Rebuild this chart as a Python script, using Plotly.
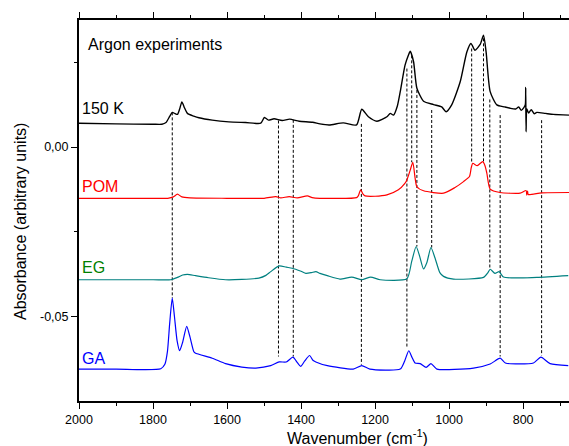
import plotly.graph_objects as go

# ---------------- data ----------------
wn_150k = [2000, 1900, 1800, 1776, 1765, 1755, 1748, 1740, 1734, 1728, 1722, 1716, 1707, 1690, 1676,
           1640, 1595, 1550, 1509, 1499, 1488, 1473, 1451, 1431, 1405, 1369, 1349, 1324, 1286, 1250,
           1236, 1218, 1195, 1168, 1159, 1150, 1140, 1132, 1119, 1110, 1105, 1096, 1087, 1069, 1042,
           1020, 1008, 993, 970, 952, 941, 930, 916, 907, 900, 889, 871, 850, 835, 820, 812, 805, 798,
           794, 793, 792, 790, 785, 778, 770, 763, 740, 718, 676]
ab_150k = [0.0070, 0.0068, 0.0067, 0.0067, 0.0072, 0.0090, 0.0102, 0.0098, 0.0096, 0.0112, 0.0133, 0.0118,
           0.0099, 0.0091, 0.0086, 0.0079, 0.0074, 0.0072, 0.0070, 0.0087, 0.0079, 0.0083, 0.0078, 0.0082,
           0.0076, 0.0073, 0.0068, 0.0065, 0.0071, 0.0065, 0.0111, 0.0089, 0.0076, 0.0089, 0.0099, 0.0094,
           0.0120, 0.0163, 0.0241, 0.0270, 0.0282, 0.0251, 0.0173, 0.0135, 0.0125, 0.0118, 0.0104, 0.0124,
           0.0192, 0.0280, 0.0305, 0.0285, 0.0302, 0.0329, 0.0280, 0.0163, 0.0124, 0.0118, 0.0114, 0.0112,
           0.0118, 0.0108, 0.0116, 0.0125, 0.0175, 0.0045, 0.0112, 0.0100, 0.0110, 0.0098, 0.0102, 0.0099,
           0.0096, 0.0094]

wn_pom = [2000, 1800, 1760, 1745, 1734, 1722, 1700, 1600, 1500, 1468, 1455, 1432, 1410, 1383, 1370, 1349,
          1250, 1245, 1239, 1233, 1227, 1200, 1168, 1137, 1120, 1114, 1105, 1098, 1092, 1087, 1069, 1015,
          985, 961, 945, 940, 936, 924, 909, 903, 898, 889, 862, 808, 792, 790, 788, 786, 750, 676]
ab_pom = [-0.0151, -0.0151, -0.0151, -0.0147, -0.0139, -0.0147, -0.0150, -0.0151, -0.0151, -0.0146, -0.0150,
          -0.0146, -0.0150, -0.0144, -0.0149, -0.0151, -0.0149, -0.0143, -0.0126, -0.0138, -0.0144, -0.0145,
          -0.0141, -0.0126, -0.0108, -0.0097, -0.0068, -0.0045, -0.0090, -0.0117, -0.0129, -0.0136, -0.0120,
          -0.0102, -0.0087, -0.0060, -0.0048, -0.0055, -0.0043, -0.0055, -0.0077, -0.0124, -0.0134, -0.0136,
          -0.0128, -0.0142, -0.0130, -0.0140, -0.0135, -0.0134]

wn_eg = [2000, 1800, 1752, 1734, 1720, 1707, 1685, 1650, 1604, 1560, 1514, 1495, 1482, 1459, 1440, 1424,
         1400, 1387, 1372, 1360, 1349, 1329, 1295, 1263, 1236, 1212, 1186, 1114, 1101, 1089, 1080, 1069,
         1060, 1049, 1038, 1025, 1015, 988, 907, 895, 889, 876, 865, 853, 763, 678]
ab_eg = [-0.0391, -0.0391, -0.0391, -0.0384, -0.0377, -0.0375, -0.0379, -0.0385, -0.0391, -0.0390, -0.0386,
         -0.0378, -0.0367, -0.0350, -0.0354, -0.0357, -0.0366, -0.0372, -0.0370, -0.0367, -0.0372, -0.0379,
         -0.0389, -0.0383, -0.0391, -0.0383, -0.0391, -0.0388, -0.0337, -0.0293, -0.0320, -0.0359, -0.0340,
         -0.0296, -0.0327, -0.0370, -0.0381, -0.0389, -0.0384, -0.0370, -0.0360, -0.0372, -0.0367, -0.0383,
         -0.0384, -0.0379]

wn_ga = [2000, 1900, 1779, 1768, 1761, 1755, 1748, 1742, 1735, 1728, 1720, 1709, 1700, 1690, 1686, 1640,
         1604, 1560, 1522, 1482, 1459, 1440, 1422, 1410, 1401, 1390, 1377, 1368, 1360, 1329, 1259, 1236,
         1214, 1132, 1120, 1109, 1100, 1092, 1078, 1062, 1049, 1033, 934, 889, 862, 848, 772, 752, 727, 678]
ab_ga = [-0.0654, -0.0654, -0.0653, -0.0640, -0.0602, -0.0520, -0.0445, -0.0500, -0.0570, -0.0600, -0.0575,
         -0.0528, -0.0560, -0.0602, -0.0607, -0.0622, -0.0638, -0.0648, -0.0651, -0.0644, -0.0633, -0.0633,
         -0.0619, -0.0635, -0.0646, -0.0630, -0.0614, -0.0628, -0.0633, -0.0644, -0.0654, -0.0644, -0.0654,
         -0.0654, -0.0630, -0.0600, -0.0620, -0.0636, -0.0638, -0.0649, -0.0638, -0.0654, -0.0651, -0.0639,
         -0.0622, -0.0636, -0.0636, -0.0619, -0.0638, -0.0644]

# vertical reference (dashed) lines: wavenumber, top end, bottom end
dash_wn = [1748, 1461, 1421, 1237, 1114, 1101, 1087, 1047, 939, 907, 890, 862, 750]
dash_top = [0.0102, 0.0078, 0.0080, 0.0068, 0.0231, 0.0270, 0.0168, 0.0109, 0.0290, 0.0320, 0.0140, 0.0094, 0.0079]
dash_bot = [-0.0445, -0.0617, -0.0617, -0.0641, -0.0592, -0.0045, -0.0293, -0.0296, -0.0048, -0.0045, -0.0357, -0.0617, -0.0614]

y_tickvals = [-0.05, 0.0]
y_ticktext = ["-0,05", "0,00"]
x_tickvals = [2000, 1800, 1600, 1400, 1200, 1000, 800]
x_ticktext = ["2000", "1800", "1600", "1400", "1200", "1000", "800"]

FONT = "Arial, Liberation Sans, sans-serif"

fig = go.Figure()

# dashed lines
dx, dy = [], []
for w, t, b in zip(dash_wn, dash_top, dash_bot):
    dx += [w, w, None]
    dy += [t, b, None]
fig.add_trace(go.Scatter(x=dx, y=dy, mode="lines", line=dict(color="black", width=1, dash="3px,2px"),
                         hoverinfo="skip", showlegend=False))

series = [
    (wn_150k, ab_150k, "black", 1.4),
    (wn_pom, ab_pom, "#ff0000", 1.2),
    (wn_eg, ab_eg, "#008080", 1.2),
    (wn_ga, ab_ga, "#0000ff", 1.2),
]
for xs, ys, c, w in series:
    fig.add_trace(go.Scatter(x=xs, y=ys, mode="lines", line=dict(color=c, width=w, shape="spline", smoothing=0.6),
                             showlegend=False))

labels = [
    ("Argon experiments", 0.0143, 0.935, "black"),
    ("150 K", 0.002, 0.768, "black"),
    ("POM", 0.002, 0.562, "#ff0000"),
    ("EG", 0.002, 0.350, "#008000"),
    ("GA", 0.002, 0.112, "#0000ff"),
]
for txt, xp, yp, c in labels:
    fig.add_annotation(text=txt, x=xp, y=yp, xref="paper", yref="paper", xanchor="left", yanchor="middle",
                       showarrow=False, font=dict(family=FONT, size=16, color=c))

# axis titles
fig.add_annotation(text="Wavenumber (cm<sup>-1</sup>)", x=(357 - 79) / 490, y=-(437 - 401) / 381,
                   xref="paper", yref="paper", showarrow=False,
                   font=dict(family=FONT, size=16, color="black"), yanchor="middle")
fig.add_annotation(text="Absorbance (arbitrary units)", x=(20 - 79) / 490, y=(401 - 222) / 381,
                   xref="paper", yref="paper", showarrow=False, textangle=-90,
                   font=dict(family=FONT, size=16, color="black"), xanchor="center", yanchor="middle")

fig.update_xaxes(range=[2000, 676], tickvals=x_tickvals, ticktext=x_ticktext, ticks="outside", ticklen=6,
                 tickwidth=1.2, tickcolor="black", showline=True, linecolor="black", linewidth=2,
                 mirror="ticks", showgrid=False, zeroline=False,
                 tickfont=dict(family=FONT, size=12.5, color="black"),
                 minor=dict(dtick=100, tick0=0, ticks="outside", ticklen=3, tickcolor="black", tickwidth=1.2,
                            showgrid=False))
fig.update_yaxes(range=[-0.0748, 0.0374], tickvals=y_tickvals, ticktext=y_ticktext, ticks="outside", ticklen=6,
                 tickwidth=1.2, tickcolor="black", showline=True, linecolor="black", linewidth=2,
                 mirror=False, showgrid=False, zeroline=False,
                 tickfont=dict(family=FONT, size=12.5, color="black"),
                 minor=dict(tickvals=[-0.075, -0.025, 0.025], ticks="outside", ticklen=3, tickcolor="black",
                            tickwidth=1.2, showgrid=False))

fig.update_layout(width=569, height=446, margin=dict(l=79, r=0, t=20, b=45, autoexpand=False),
                  plot_bgcolor="white", paper_bgcolor="white", showlegend=False)

fig.write_html("out.html", config={"displayModeBar": False},
               post_script="document.body.style.margin='0px';document.body.style.overflow='hidden';")
